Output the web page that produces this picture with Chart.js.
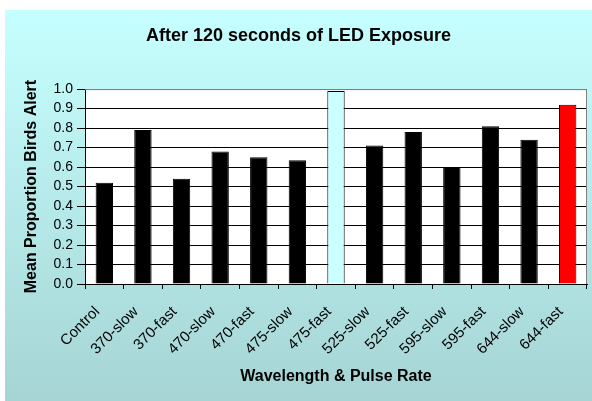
<!DOCTYPE html>
<html>
<head>
<meta charset="utf-8">
<script src="https://cdn.jsdelivr.net/npm/chart.js@4/dist/chart.umd.min.js"></script>
<style>
  html, body { margin: 0; padding: 0; background: #fff; }
  #wrap { width: 592px; height: 401px; }
</style>
</head>
<body>
<div id="wrap"><canvas id="ledChart" width="592" height="401"></canvas></div>
<script>
var categories = ['Control', '370-slow', '370-fast', '470-slow', '470-fast', '475-slow', '475-fast',
    '525-slow', '525-fast', '595-slow', '595-fast', '644-slow', '644-fast'];
var alertValues = [0.52, 0.79, 0.54, 0.68, 0.65, 0.635, 0.99, 0.71, 0.78, 0.60, 0.81, 0.74, 0.92];
var barColors = ['#000000', '#000000', '#000000', '#000000', '#000000', '#000000', '#CCFFFF',
    '#000000', '#000000', '#000000', '#000000', '#000000', '#FF0000'];

var fontFamily = '"Liberation Sans", Arial, sans-serif';

// gradient backdrop + white plot area + grey top/right frame
var backdrop = {
    id: 'backdrop',
    beforeDraw: function (chart) {
        var ctx = chart.ctx;
        var area = chart.chartArea;
        ctx.save();
        ctx.fillStyle = '#ffffff';
        ctx.fillRect(0, 0, chart.width, chart.height);
        var grad = ctx.createLinearGradient(0, 10, 0, chart.height);
        grad.addColorStop(0, '#C6FFFF');
        grad.addColorStop(1, '#A6D4D4');
        ctx.fillStyle = grad;
        ctx.fillRect(5, 10, chart.width - 5, chart.height - 10);
        ctx.fillStyle = '#ffffff';
        ctx.fillRect(area.left, area.top, area.right - area.left, area.bottom - area.top);
        ctx.restore();
    },
    afterDraw: function (chart) {
        var ctx = chart.ctx;
        var area = chart.chartArea;
        ctx.save();
        ctx.strokeStyle = '#808080';
        ctx.lineWidth = 1;
        ctx.beginPath();
        ctx.moveTo(area.left, area.top + 0.5);
        ctx.lineTo(area.right - 0.5, area.top + 0.5);
        ctx.lineTo(area.right - 0.5, area.bottom);
        ctx.stroke();
        ctx.restore();
    }
};

new Chart(document.getElementById('ledChart').getContext('2d'), {
    type: 'bar',
    data: {
        labels: categories,
        datasets: [{
            label: 'Mean Proportion Birds Alert',
            data: alertValues,
            backgroundColor: barColors,
            borderColor: '#000000',
            borderWidth: 1,
            barPercentage: 0.45,
            categoryPercentage: 1.0
        }]
    },
    options: {
        responsive: false,
        animation: false,
        layout: { padding: { left: 10, right: 5, top: 0, bottom: 0 } },
        plugins: {
            legend: { display: false },
            tooltip: { enabled: false },
            title: {
                display: true,
                text: 'After 120 seconds of LED Exposure',
                color: '#000000',
                font: { family: fontFamily, size: 18, weight: 'bold' },
                padding: { top: 25.5, bottom: 42 }
            }
        },
        scales: {
            x: {
                offset: true,
                grid: {
                    offset: true,
                    drawOnChartArea: false,
                    color: '#000000',
                    tickLength: 5
                },
                border: { color: '#000000', width: 1 },
                ticks: {
                    autoSkip: false,
                    minRotation: 45,
                    maxRotation: 45,
                    padding: 14,
                    labelOffset: -7,
                    color: '#000000',
                    font: { family: fontFamily, size: 15 }
                },
                title: {
                    display: true,
                    text: 'Wavelength & Pulse Rate',
                    color: '#000000',
                    font: { family: fontFamily, size: 16, weight: 'bold' },
                    padding: { top: 4, bottom: 14.7 }
                },
                afterFit: function (scale) {
                    scale.height = 117;
                    scale.paddingLeft = 0;
                    scale.paddingRight = 0;
                }
            },
            y: {
                min: 0,
                max: 1,
                grid: {
                    color: function (c) { return c.tick && c.tick.value === 1 ? '#808080' : '#000000'; },
                    tickColor: '#000000',
                    tickLength: 8
                },
                border: { color: '#000000', width: 1 },
                ticks: {
                    stepSize: 0.1,
                    autoSkip: false,
                    padding: 4,
                    color: '#000000',
                    font: { family: fontFamily, size: 14 },
                    callback: function (v) { return Number(v).toFixed(1); }
                },
                title: {
                    display: true,
                    text: 'Mean Proportion Birds Alert',
                    color: '#000000',
                    font: { family: fontFamily, size: 16, weight: 'bold' },
                    padding: { top: 12, bottom: 4 }
                },
                afterFit: function (scale) {
                    scale.width = 75;
                    scale.paddingTop = 0;
                    scale.paddingBottom = 0;
                }
            }
        }
    },
    plugins: [backdrop]
});
</script>
</body>
</html>
